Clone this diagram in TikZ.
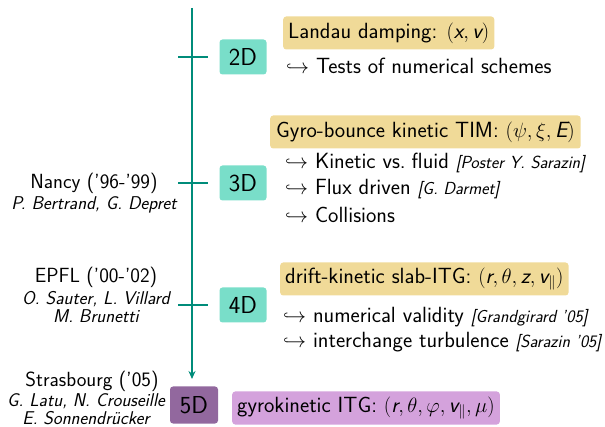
\documentclass[tikz,border=0pt]{standalone}
\usepackage{fontspec}
\renewcommand{\familydefault}{\sfdefault}
\usetikzlibrary{arrows.meta}
\definecolor{tealline}{RGB}{0,140,122}
\definecolor{tealbox}{RGB}{121,222,201}
\definecolor{sandbox}{RGB}{240,218,152}
\definecolor{plumbox}{RGB}{146,104,158}
\definecolor{lilacbox}{RGB}{212,162,220}
\newcommand{\mi}[1]{\textit{#1}}
\newcommand{\refx}[1]{{\fontsize{17.5}{18}\selectfont\itshape[#1]}}
\begin{document}
\begin{tikzpicture}[x=1pt,y=-1pt,
  every node/.style={font=\fontsize{22}{25}\selectfont},
  dimbox/.style={rounded corners=3pt,minimum width=47pt,minimum height=35pt,inner sep=0pt,font=\fontsize{24.5}{26}\selectfont},
  topicbox/.style={rounded corners=3pt,minimum height=33pt,inner xsep=5pt,anchor=west},
  item/.style={anchor=west,inner sep=0pt},
  names/.style={font=\fontsize{18.5}{18.5}\selectfont\itshape,align=center,inner sep=0pt},
  place/.style={inner sep=0pt,font=\fontsize{20.5}{23}\selectfont},
  axis/.style={draw=tealline,line width=2.6pt},
  ]
\useasboundingbox (0,0) rectangle (605,427);
% axis
\coordinate (top) at (192,8);
\coordinate (bot) at (192,379);
\draw[axis,-{Stealth[length=8pt,width=7pt]}] (top) -- (bot);
\coordinate (t2a) at (178,57); \coordinate (t2b) at (208,57);
\coordinate (t3a) at (178,183); \coordinate (t3b) at (208,183);
\coordinate (t4a) at (178,305); \coordinate (t4b) at (208,305);
\draw[axis] (t2a) -- (t2b);
\draw[axis] (t3a) -- (t3b);
\draw[axis] (t4a) -- (t4b);
% dimension boxes
\node[dimbox,fill=tealbox] (d2) at (243,57) {2D};
\node[dimbox,fill=tealbox] (d3) at (243,183) {3D};
\node[dimbox,fill=tealbox] (d4) at (243,305) {4D};
\node[dimbox,fill=plumbox,minimum width=48pt,minimum height=37pt] (d5) at (194,405) {5D};
% topics
\node[topicbox,fill=sandbox] (landau) at (283,33) {Landau damping: $(\mi{x},\mi{v})$};
\node[item] (l1) at (286,66) {$\hookrightarrow$ Tests of numerical schemes};
\node[topicbox,fill=sandbox,inner xsep=6pt] (gyro) at (270,132) {Gyro-bounce kinetic TIM: $(\psi,\xi,\mi{E})$};
\node[item] (g1) at (285,163) {$\hookrightarrow$ Kinetic vs.\hspace{6pt}fluid \refx{Poster Y. Sarazin}};
\node[item] (g2) at (285,189) {$\hookrightarrow$ Flux driven \refx{G. Darmet}};
\node[item] (g3) at (285,215) {$\hookrightarrow$ Collisions};
\node[topicbox,fill=sandbox] (drift) at (280,279) {drift-kinetic slab-ITG: $(\mi{r},\theta,\mi{z},\mi{v}_{\parallel})$};
\node[item] (k1) at (283,317) {$\hookrightarrow$ numerical validity \refx{Grandgirard '05}};
\node[item] (k2) at (283,342) {$\hookrightarrow$ interchange turbulence \refx{Sarazin '05}};
\node[topicbox,fill=lilacbox] (gk) at (232,408) {gyrokinetic ITG: $(\mi{r},\theta,\varphi,\mi{v}_{\parallel},\mu)$};
% places
\node[place] (nancy) at (94,183) {Nancy ('96-'99)};
\node[names] (nancyn) at (94,205) {P. Bertrand, G. Depret};
\node[place] (epfl) at (96,277) {EPFL ('00-'02)};
\node[names] (epfln) at (96,307) {O. Sauter, L. Villard\\M. Brunetti};
\node[place] (stras) at (92,381) {Strasbourg ('05)};
\node[names] (strasn) at (86,409) {G. Latu, N. Crouseille\\E. Sonnendrücker};
\end{tikzpicture}
\end{document}
